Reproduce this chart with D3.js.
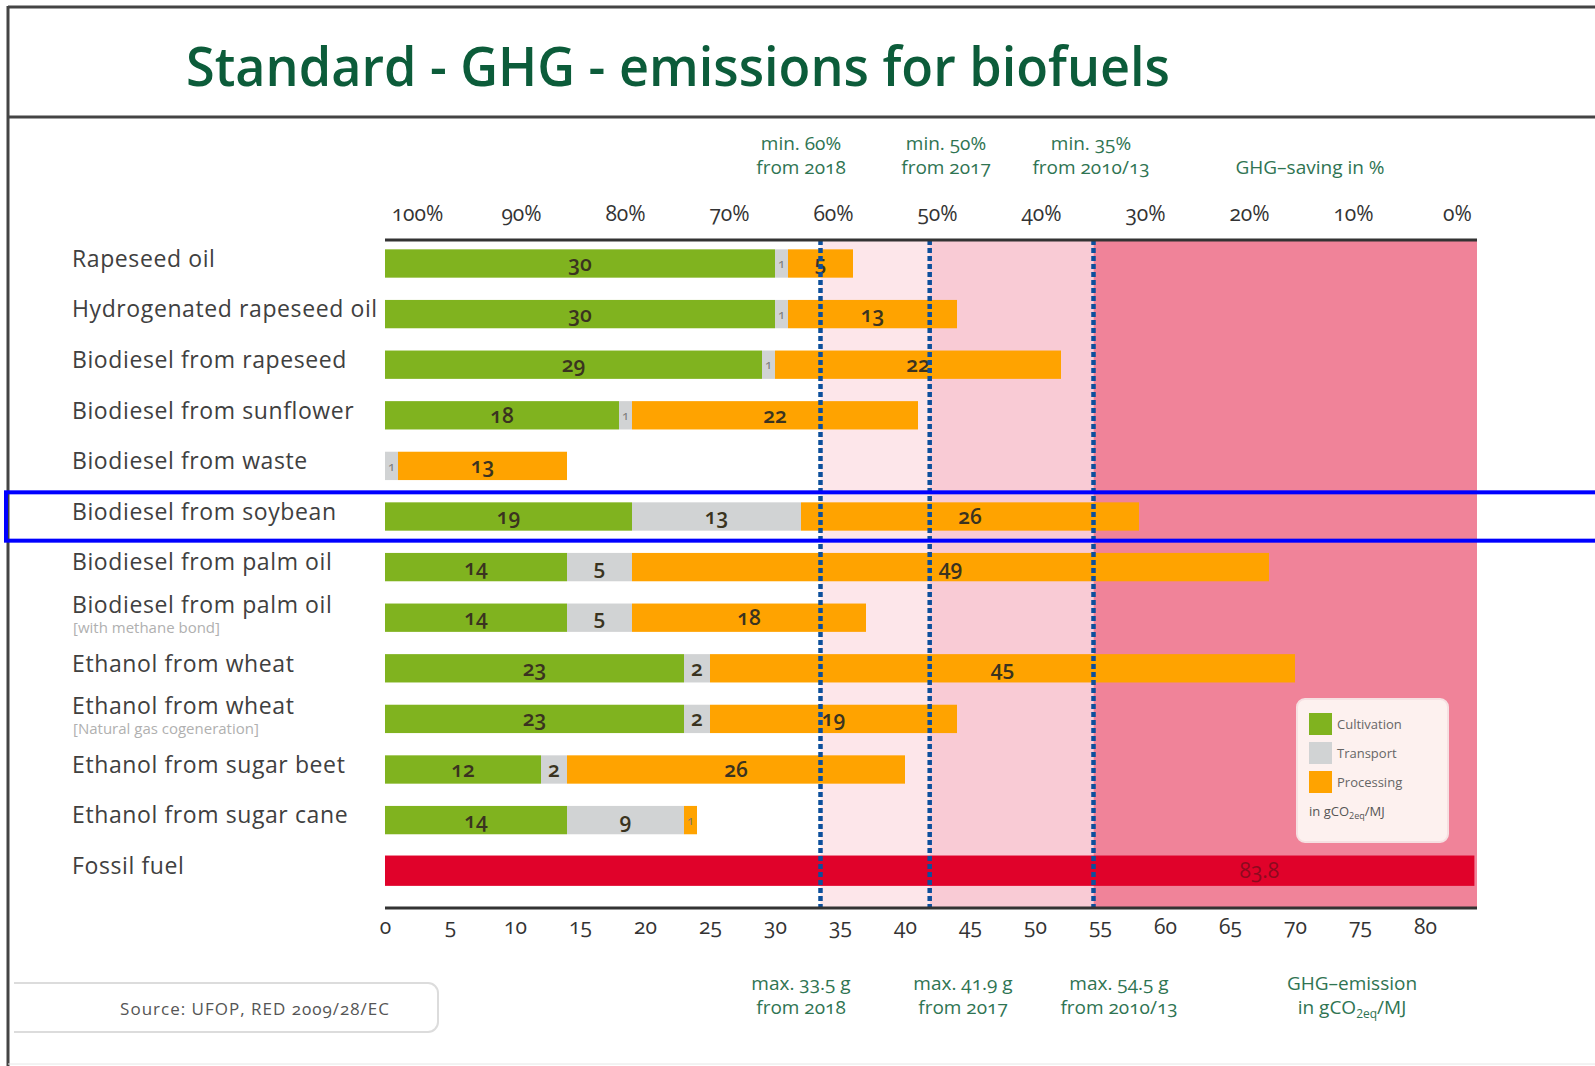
<!DOCTYPE html>
<html>
<head>
<meta charset="utf-8">
<script src="https://cdn.jsdelivr.net/npm/d3@7"></script>
<style>
body { margin: 0; background: #fff; }
svg { display: block; font-family: 'Open Sans', sans-serif; }
.num { font-variant-numeric: oldstyle-nums; font-feature-settings: "onum"; }
</style>
</head>
<body>
<svg width="1595" height="1066"></svg>
<script>
// fuels, top to bottom
var fuels = ["Rapeseed oil", "Hydrogenated rapeseed oil", "Biodiesel from rapeseed",
  "Biodiesel from sunflower", "Biodiesel from waste", "Biodiesel from soybean",
  "Biodiesel from palm oil", "Biodiesel from palm oil*", "Ethanol from wheat",
  "Ethanol from wheat*", "Ethanol from sugar beet", "Ethanol from sugar cane", "Fossil fuel"];
var subLabels = {"Biodiesel from palm oil*": "[with methane bond]",
  "Ethanol from wheat*": "[Natural gas cogeneration]"};

// gCO2eq/MJ per stage
var cultivation = [30, 30, 29, 18, 0, 19, 14, 14, 23, 23, 12, 14];
var transport   = [1, 1, 1, 1, 1, 13, 5, 5, 2, 2, 2, 9];
var processing  = [5, 13, 22, 22, 13, 26, 49, 18, 45, 19, 26, 1];
var fossil = 83.8;

var stages = ["Cultivation", "Transport", "Processing"];
var stageColors = ["#80b31f", "#d1d3d4", "#ffa300"];

var savingTicks = [100, 90, 80, 70, 60, 50, 40, 30, 20, 10, 0];
var emissionTicks = d3.range(0, 81, 5);

// thresholds: saving %, max g
var thresholds = [
  {saving: "min. 60%", from: "from 2018", max: "max. 33.5 g", value: 33.5},
  {saving: "min. 50%", from: "from 2017", max: "max. 41.9 g", value: 41.9},
  {saving: "min. 35%", from: "from 2010/13", max: "max. 54.5 g", value: 54.5}
];

var svg = d3.select("svg");
var pLeft = 385, pRight = 1477, pTop = 240, pBottom = 908;

var x = d3.scaleLinear().domain([0, 84]).range([pLeft, pRight]);
// saving labels sit a little inset in the original graphic
var pct = d3.scaleLinear().domain([100, 0]).range([pLeft + 32, pRight - 20]);
var y = d3.scaleBand().domain(fuels).range([238.2, 896]).paddingInner(0.44).paddingOuter(0.22);

// frame
svg.append("line").attr("x1", 8).attr("x2", 1595).attr("y1", 7).attr("y2", 7)
  .attr("stroke", "#444").attr("stroke-width", 3);
svg.append("line").attr("x1", 8).attr("x2", 1595).attr("y1", 117).attr("y2", 117)
  .attr("stroke", "#444").attr("stroke-width", 3);
svg.append("line").attr("x1", 8).attr("x2", 8).attr("y1", 6).attr("y2", 1066)
  .attr("stroke", "#444").attr("stroke-width", 3);
svg.append("line").attr("x1", 8).attr("x2", 1595).attr("y1", 1064).attr("y2", 1064)
  .attr("stroke", "#e6e6e6").attr("stroke-width", 1);

svg.append("text")
  .attr("x", 186).attr("y", 86)
  .attr("fill", "#0c5c3a")
  .attr("font-size", 54).attr("font-weight", 600)
  .attr("textLength", 984).attr("lengthAdjust", "spacingAndGlyphs")
  .text("Standard - GHG - emissions for biofuels");

// zones behind bars
var zones = [
  {from: 33.5, to: 41.9, color: "#fde6ea"},
  {from: 41.9, to: 54.5, color: "#f9cbd5"},
  {from: 54.5, to: 84, color: "#f08399"}
];
svg.selectAll(".zone").data(zones).enter().append("rect")
  .attr("x", function(d){ return x(d.from); })
  .attr("width", function(d){ return x(d.to) - x(d.from); })
  .attr("y", pTop).attr("height", pBottom - pTop)
  .attr("fill", function(d){ return d.color; });

// stacked bars
var rows = fuels.slice(0, 12).map(function(f, i){
  return {name: f, vals: [cultivation[i], transport[i], processing[i]]};
});
var stacked = d3.stack().keys([0, 1, 2]).value(function(d, k){ return d.vals[k]; })(rows);

var g = svg.append("g");
stacked.forEach(function(layer, k){
  layer.forEach(function(seg, i){
    var v = seg[1] - seg[0];
    if (v <= 0) return;
    var yy = y(rows[i].name);
    g.append("rect")
      .attr("x", x(seg[0])).attr("y", yy)
      .attr("width", x(seg[1]) - x(seg[0])).attr("height", y.bandwidth())
      .attr("fill", stageColors[k]);
    g.append("text")
      .attr("class", "num")
      .attr("x", (x(seg[0]) + x(seg[1])) / 2)
      .attr("y", yy + y.bandwidth() / 2)
      .attr("dy", "0.36em")
      .attr("text-anchor", "middle")
      .attr("font-size", v < 2 ? 13 : 21)
      .attr("font-weight", v < 2 ? 400 : 600)
      .attr("fill", v < 2 ? "#777" : "#3a3320")
      .text(v);
  });
});

// fossil fuel
svg.append("rect")
  .attr("x", x(0)).attr("y", y("Fossil fuel") - 1)
  .attr("width", x(fossil) - x(0)).attr("height", y.bandwidth() + 2)
  .attr("fill", "#e0022a");
svg.append("text").attr("class", "num")
  .attr("x", x(fossil) - 215).attr("y", y("Fossil fuel") + y.bandwidth() / 2)
  .attr("dy", "0.36em").attr("text-anchor", "middle")
  .attr("font-size", 21).attr("fill", "#8c0a1e")
  .text(String(fossil));

// threshold lines
svg.selectAll(".thr").data(thresholds).enter().append("line")
  .attr("x1", function(d){ return x(d.value); })
  .attr("x2", function(d){ return x(d.value); })
  .attr("y1", pTop).attr("y2", pBottom)
  .attr("stroke", "#0c4f9c").attr("stroke-width", 4.5)
  .attr("stroke-dasharray", "5,3");

// axis lines
svg.append("line").attr("x1", pLeft).attr("x2", pRight).attr("y1", pTop).attr("y2", pTop)
  .attr("stroke", "#333").attr("stroke-width", 3);
svg.append("line").attr("x1", pLeft).attr("x2", pRight).attr("y1", pBottom).attr("y2", pBottom)
  .attr("stroke", "#333").attr("stroke-width", 3);

// top axis: saving in %
var topAxis = svg.append("g").attr("transform", "translate(0," + (pTop - 16) + ")")
  .call(d3.axisTop(pct).tickValues(savingTicks).tickSize(0).tickFormat(function(d){ return d + "%"; }));
topAxis.select(".domain").remove();
topAxis.selectAll("text").attr("class", "num")
  .attr("font-family", "'Open Sans', sans-serif").attr("font-size", 21).attr("fill", "#333");

// bottom axis: emission
var botAxis = svg.append("g").attr("transform", "translate(0," + (pBottom + 8) + ")")
  .call(d3.axisBottom(x).tickValues(emissionTicks).tickSize(0));
botAxis.select(".domain").remove();
botAxis.selectAll("text").attr("class", "num")
  .attr("font-family", "'Open Sans', sans-serif").attr("font-size", 21).attr("fill", "#333");

// fuel labels
var lab = svg.append("g");
fuels.forEach(function(f){
  var cy = y(f) + y.bandwidth() / 2;
  var sub = subLabels[f];
  lab.append("text")
    .attr("x", 72).attr("y", sub ? cy - 13 : cy - 5)
    .attr("dy", "0.36em")
    .attr("font-size", 23).attr("letter-spacing", 0.6).attr("fill", "#404040")
    .text(f.replace("*", ""));
  if (sub) {
    lab.append("text")
      .attr("x", 73).attr("y", cy + 10).attr("dy", "0.36em")
      .attr("font-size", 15).attr("fill", "#b0b0b0")
      .text(sub);
  }
});

// threshold annotations
var green = "#2f7452";
thresholds.forEach(function(t, i){
  var cx = [801, 946, 1091][i];
  svg.append("text").attr("class", "num").attr("x", cx).attr("y", 150)
    .attr("text-anchor", "middle").attr("font-size", 19).attr("fill", green).text(t.saving);
  svg.append("text").attr("class", "num").attr("x", cx).attr("y", 174)
    .attr("text-anchor", "middle").attr("font-size", 19).attr("fill", green).text(t.from);
  var bx = [801, 963, 1119][i];
  svg.append("text").attr("class", "num").attr("x", bx).attr("y", 990)
    .attr("text-anchor", "middle").attr("font-size", 19).attr("fill", green).text(t.max);
  svg.append("text").attr("class", "num").attr("x", bx).attr("y", 1014)
    .attr("text-anchor", "middle").attr("font-size", 19).attr("fill", green).text(t.from);
});
svg.append("text").attr("x", 1310).attr("y", 174).attr("text-anchor", "middle")
  .attr("font-size", 19).attr("fill", green).text("GHG–saving in %");
var em = svg.append("text").attr("x", 1352).attr("y", 990).attr("text-anchor", "middle")
  .attr("font-size", 19).attr("fill", green);
em.append("tspan").text("GHG–emission");
var em2 = svg.append("text").attr("x", 1352).attr("y", 1014).attr("text-anchor", "middle")
  .attr("font-size", 19).attr("fill", green);
em2.append("tspan").text("in gCO");
em2.append("tspan").attr("font-size", 12).attr("dy", 4).text("2eq");
em2.append("tspan").attr("dy", -4).text("/MJ");

// legend
var lg = svg.append("g").attr("transform", "translate(1297,699)");
lg.append("rect").attr("width", 151).attr("height", 143).attr("rx", 8)
  .attr("fill", "#fdf1ef").attr("stroke", "#f6e0e2").attr("stroke-width", 2);
stages.forEach(function(s, i){
  lg.append("rect").attr("x", 12).attr("y", 14 + i * 29).attr("width", 23).attr("height", 22)
    .attr("fill", stageColors[i]);
  lg.append("text").attr("x", 40).attr("y", 25 + i * 29).attr("dy", "0.36em")
    .attr("font-size", 13).attr("fill", "#666").text(s);
});
var unit = lg.append("text").attr("x", 12).attr("y", 117).attr("font-size", 13).attr("fill", "#555");
unit.append("tspan").text("in gCO");
unit.append("tspan").attr("font-size", 9).attr("dy", 3).text("2eq");
unit.append("tspan").attr("dy", -3).text("/MJ");

// source box
svg.append("path")
  .attr("d", "M14,983 H428 a10,10 0 0 1 10,10 V1022 a10,10 0 0 1 -10,10 H14")
  .attr("fill", "#fff").attr("stroke", "#dcdcdc").attr("stroke-width", 2);
svg.append("text").attr("class", "num").attr("x", 255).attr("y", 1009).attr("dy", "0.36em")
  .attr("text-anchor", "middle").attr("font-size", 17).attr("fill", "#555")
  .attr("letter-spacing", 1).text("Source: UFOP, RED 2009/28/EC");

// highlight box around soybean row
var hy = y("Biodiesel from soybean");
svg.append("rect")
  .attr("x", 6).attr("y", hy - 10).attr("width", 1600).attr("height", y.bandwidth() + 20)
  .attr("fill", "none").attr("stroke", "#0000ff").attr("stroke-width", 4);
</script>
</body>
</html>
